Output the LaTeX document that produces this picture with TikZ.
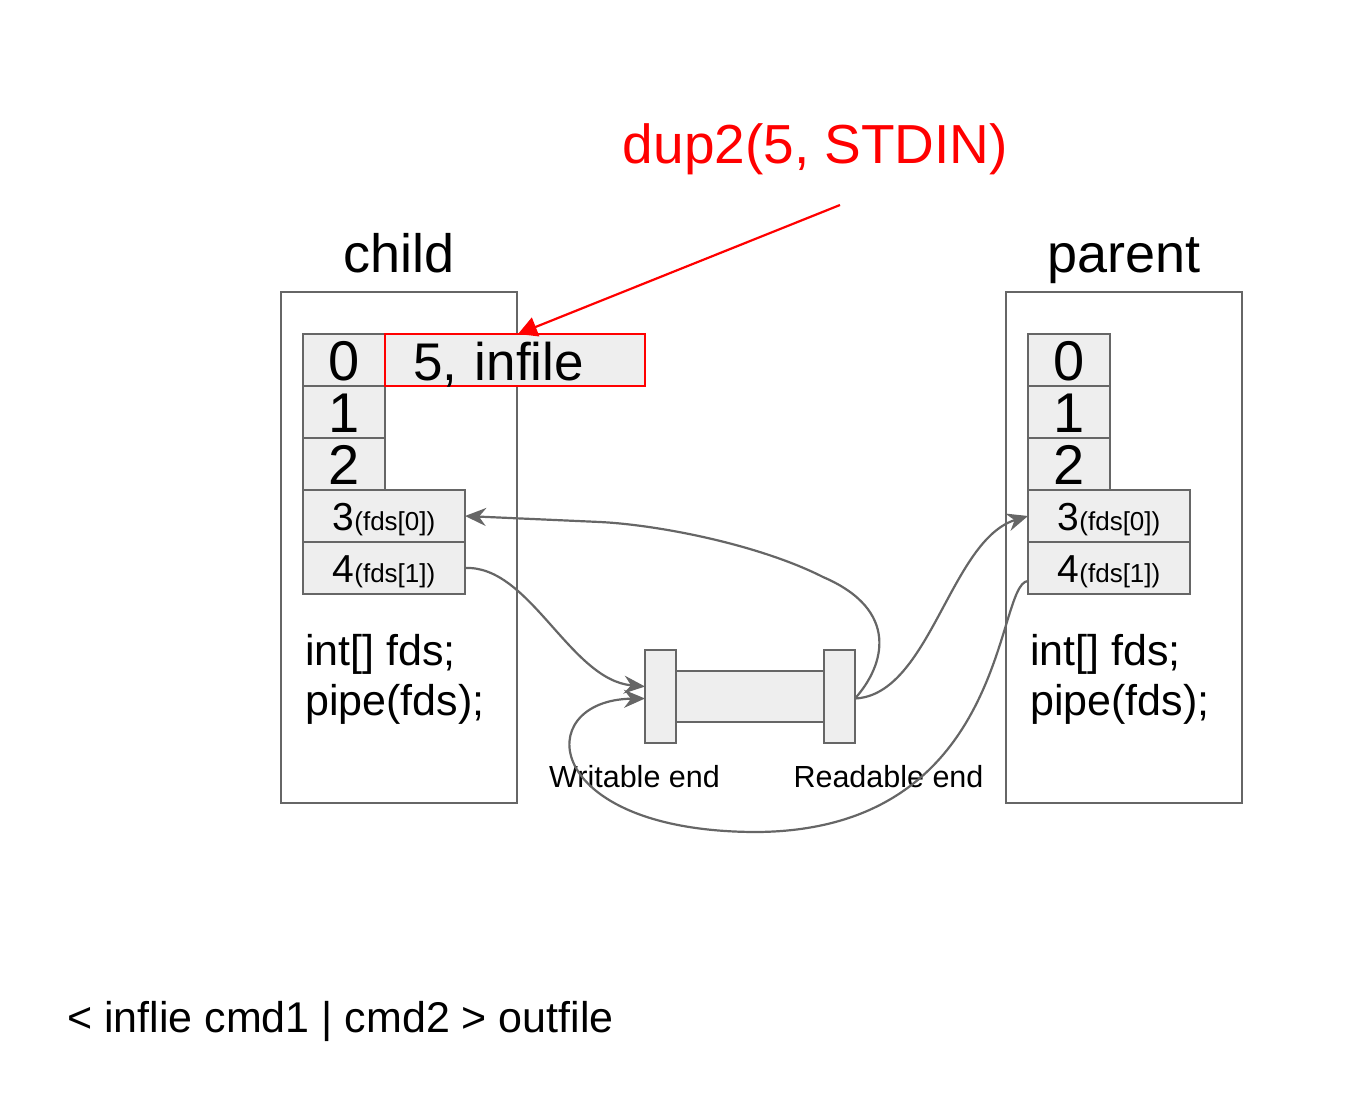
\documentclass[tikz,border=0pt]{standalone}
\usepackage{fontspec}
\setmainfont{Liberation Sans}
\usetikzlibrary{arrows.meta,positioning}
\definecolor{linegray}{HTML}{666666}
\definecolor{cellfill}{HTML}{EEEEEE}
\newcommand{\fdsname}[1]{{\fontsize{26}{28}\selectfont(fds[#1])}}

\begin{document}
\begin{tikzpicture}[x=1pt,y=-1pt,
  proc/.style={draw=linegray,line width=2.3pt,minimum width=236pt,minimum height=511pt,inner sep=0pt,outer sep=0pt},
  cell/.style={draw=linegray,fill=cellfill,line width=2.3pt,minimum width=82pt,minimum height=52pt,inner sep=0pt,outer sep=0pt,font=\fontsize{56}{60}\selectfont,text height=40pt,text depth=0pt},
  widecell/.style={cell,minimum width=162pt,font=\fontsize{39}{42}\selectfont,text height=28pt},
  title/.style={font=\fontsize{54}{60}\selectfont,anchor=base},
  code/.style={font=\fontsize{43}{50}\selectfont,anchor=base west,inner sep=0pt},
  lbl/.style={font=\fontsize{30.5}{34}\selectfont,anchor=base,inner sep=0pt},
  conn/.style={draw=linegray,line width=2.2pt,-{Stealth[length=21pt,width=18pt,inset=7pt]}}]

  \useasboundingbox (0,0) rectangle (1372,1108);

  % child
  \node[proc] (cbox) at (399,547.5) {};
  \node[title] (ctitle) at ([yshift=20pt]cbox.north) {child};
  \node[cell] (c0) at (344,360) {0};
  \node[cell,below=0pt of c0] (c1) {1};
  \node[cell,below=0pt of c1] (c2) {2};
  \node[widecell,anchor=north west] (c3) at (c2.south west) {3\fdsname{0}};
  \node[widecell,below=0pt of c3] (c4) {4\fdsname{1}};
  \node[cell,draw=red,minimum width=260pt,anchor=west,text width=204pt,align=left,inner xsep=28pt,font=\fontsize{53}{60}\selectfont] (rbox) at (c0.east) {5, infile};
  \node[code] (cdecl) at (305,665) {int[] fds;};
  \node[code] (cpipe) at (305,715) {pipe(fds);};

  % parent
  \node[proc] (pbox) at (1124,547.5) {};
  \node[title] (ptitle) at ([yshift=20pt]pbox.north) {parent};
  \node[cell] (p0) at (1069,360) {0};
  \node[cell,below=0pt of p0] (p1) {1};
  \node[cell,below=0pt of p1] (p2) {2};
  \node[widecell,anchor=north west] (p3) at (p2.south west) {3\fdsname{0}};
  \node[widecell,below=0pt of p3] (p4) {4\fdsname{1}};
  \node[code] (pdecl) at (1030,665) {int[] fds;};
  \node[code] (ppipe) at (1030,715) {pipe(fds);};

  % pipe
  \node[cell,minimum width=148pt,minimum height=51pt] (tube) at (750,696.5) {};
  \node[cell,minimum width=31pt,minimum height=93pt] (wl) at (660.5,696.5) {};
  \node[cell,minimum width=31pt,minimum height=93pt] (wr) at (839.5,696.5) {};
  \node[lbl] (wlabel) at (634.5,787) {Writable end};
  \node[lbl] (rlabel) at (888.5,787) {Readable end};

  % dup2
  \node[font=\fontsize{55}{60}\selectfont,text=red,anchor=base] (dup) at (815.5,163) {dup2(5, STDIN)};
  \coordinate (dupfrom) at (840,205);
  \draw[red,line width=2.2pt,-{Triangle[length=19pt,width=20pt]}] (dupfrom) -- ([xshift=3pt]rbox.north);

  % connectors
  \draw[conn] ([yshift=-2pt]wr.east) .. controls (885,665) and (900,610) .. (823,577)
    .. controls (760,545) and (660,525) .. (600,522) -- (c3.east);
  \draw[conn] (c4.east) .. controls (530,565) and (570,680) .. ([yshift=10pt]wl.west);
  \draw[conn] ([yshift=-2pt]wr.east) .. controls (930,695) and (950,540) .. (p3.west);
  \draw[conn] ([yshift=-13pt]p4.west) .. controls (995,583) and (1010,830) .. (757,832)
    .. controls (540,832) and (530,700) .. ([yshift=-2pt]wl.west);

  \node[code] (cmdline) at (67,1032) {< inflie cmd1 | cmd2 > outfile};
\end{tikzpicture}
\end{document}
